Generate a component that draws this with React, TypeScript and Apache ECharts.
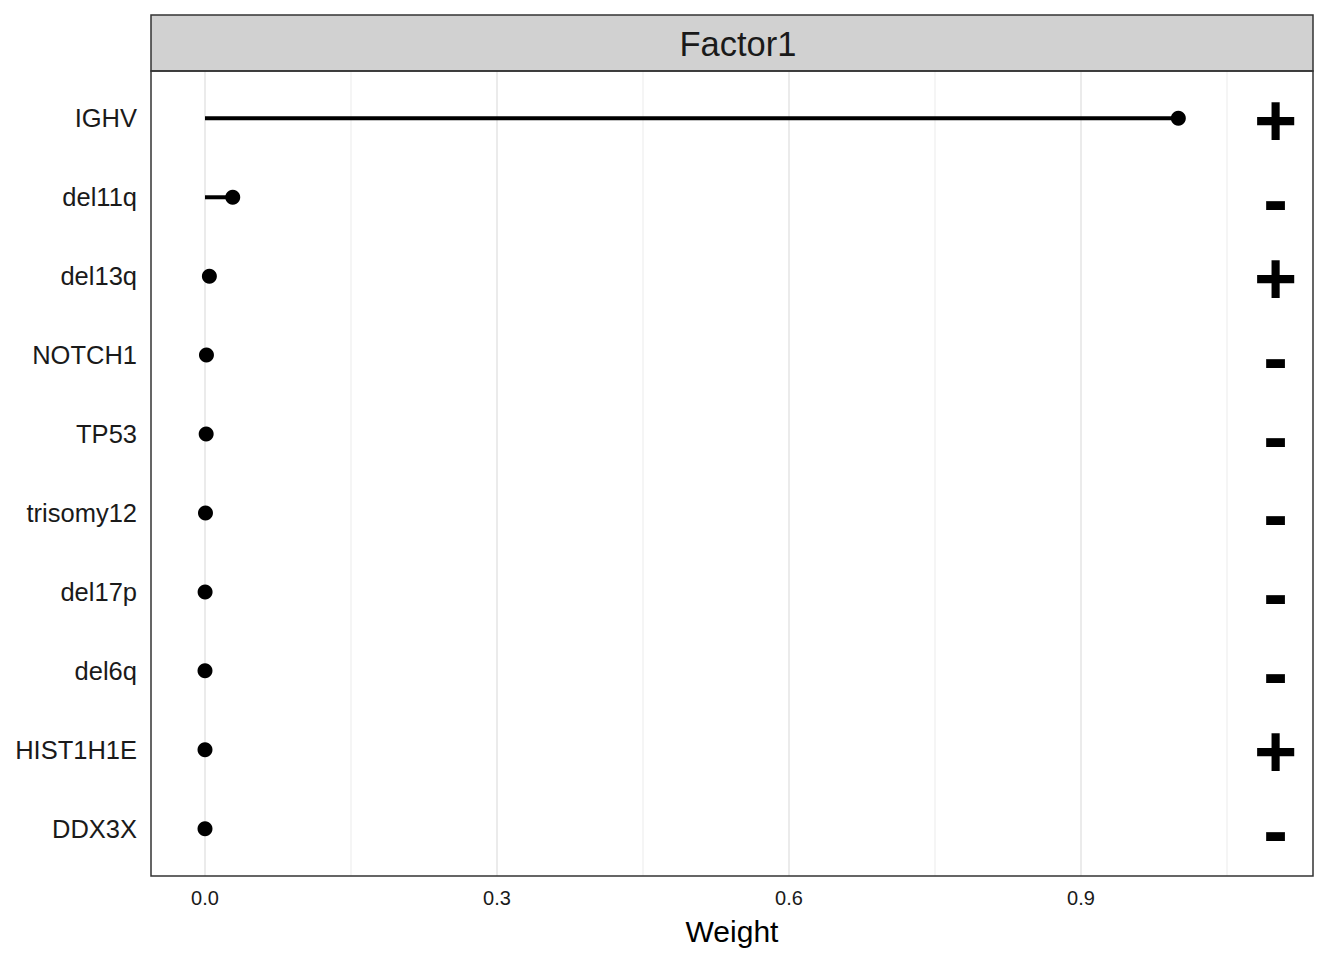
import React, { useEffect, useRef } from "react";
import * as echarts from "echarts";

const features = ["IGHV", "del11q", "del13q", "NOTCH1", "TP53", "trisomy12", "del17p", "del6q", "HIST1H1E", "DDX3X"];
const weights = [1.0, 0.0285, 0.0045, 0.0015, 0.0012, 0.0005, 0.0001, 0, 0, 0];
const signs = ["+", "-", "+", "-", "-", "-", "-", "-", "+", "-"];
const xTicks = [0, 0.3, 0.6, 0.9];
const xMinorGrid = [0.15, 0.45, 0.75, 1.05];
const signX = 1.1;
const factorName = "Factor1";
const xTitle = "Weight";

const FONT = "'Liberation Sans', Arial, Helvetica, sans-serif";

export default function App() {
  const ref = useRef<HTMLDivElement>(null);
  useEffect(() => {
    if (!ref.current) return;
    const chart = echarts.init(ref.current, null, { renderer: "svg" });
    const L = 151, R = 1313, T = 71, B = 876, stripTop = 15;
    const pxPerUnit = (1081 - 205) / 0.9;
    const xMin = (L - 205) / pxPerUnit;
    const xMax = (R - 205) / pxPerUnit;
    const unitY = (B - T) / 10.2;
    const catTop = T + 0.6 * unitY - unitY / 2;
    const catBottom = catTop + unitY * 10;

    const gridData = [
      ...xTicks.map((v) => [v, 2]),
      ...xMinorGrid.map((v) => [v, 1]),
    ];

    const option: any = {
      animation: false,
      backgroundColor: "#ffffff",
      textStyle: { fontFamily: FONT },
      grid: [
        { left: L, right: 1344 - R, top: T, bottom: 960 - B, containLabel: false },
        { left: L, right: 1344 - R, top: catTop, bottom: 960 - catBottom, containLabel: false },
      ],
      xAxis: [
        {
          type: "value",
          gridIndex: 0,
          min: xMin,
          max: xMax,
          axisLine: { show: false },
          splitLine: { show: false },
          axisTick: {
            show: true,
            customValues: xTicks,
            length: 6,
            lineStyle: { color: "#333333", width: 2 },
          },
          axisLabel: {
            show: true,
            customValues: xTicks,
            formatter: (v: number) => `{t|${v.toFixed(1)}}`,
            color: "#1a1a1a",
            fontSize: 20,
            fontFamily: FONT,
            margin: 11,
            rich: {
              t: { fontSize: 20, fontFamily: FONT, color: "#1a1a1a", lineHeight: 22 },
            },
          },
          name: xTitle,
          nameLocation: "middle",
          nameGap: 40,
          nameTextStyle: { fontSize: 30, color: "#000000", fontFamily: FONT },
        },
        {
          type: "value",
          gridIndex: 1,
          show: false,
        },
      ],
      yAxis: [
        {
          type: "value",
          gridIndex: 0,
          min: -0.6,
          max: 9.6,
          inverse: true,
          show: false,
        },
        {
          type: "category",
          gridIndex: 1,
          data: features,
          inverse: true,
          boundaryGap: true,
          axisLine: { show: false },
          axisTick: { show: false },
          splitLine: { show: false },
          axisLabel: { color: "#1a1a1a", fontSize: 25.5, fontFamily: FONT, margin: 14 },
        },
      ],
      graphic: [
        {
          type: "rect",
          shape: { x: L, y: stripTop, width: R - L, height: T - stripTop },
          style: { fill: "#d1d1d1", stroke: "#333333", lineWidth: 1.5 },
          z: 10,
        },
        {
          type: "text",
          x: (L + R) / 2 + 6,
          y: (stripTop + T) / 2 + 1,
          style: {
            text: factorName,
            fill: "#1a1a1a",
            font: `34.5px ${FONT}`,
            align: "center",
            verticalAlign: "middle",
          },
          z: 11,
        },
        {
          type: "rect",
          shape: { x: L, y: T, width: R - L, height: B - T },
          style: { fill: "none", stroke: "#333333", lineWidth: 1.5 },
          z: 10,
        },
      ],
      series: [
        {
          type: "custom",
          xAxisIndex: 0,
          yAxisIndex: 0,
          z: 1,
          silent: true,
          data: gridData,
          renderItem: (params: any, api: any) => {
            const v = api.value(0);
            const w = api.value(1);
            const p0 = api.coord([v, -0.6]);
            const p1 = api.coord([v, 9.6]);
            return {
              type: "line",
              shape: { x1: p0[0], y1: p0[1], x2: p1[0], y2: p1[1] },
              style: { stroke: "#ebebeb", lineWidth: w },
            };
          },
        },
        {
          type: "custom",
          xAxisIndex: 0,
          yAxisIndex: 0,
          z: 2,
          data: weights.map((w, i) => [w, i]),
          renderItem: (params: any, api: any) => {
            const v = api.value(0);
            const i = api.value(1);
            const p0 = api.coord([0, i]);
            const p1 = api.coord([v, i]);
            return {
              type: "line",
              shape: { x1: p0[0], y1: p0[1], x2: p1[0], y2: p1[1] },
              style: { stroke: "#000000", lineWidth: 4 },
            };
          },
        },
        {
          type: "scatter",
          xAxisIndex: 0,
          yAxisIndex: 0,
          z: 3,
          symbol: "circle",
          symbolSize: 15,
          itemStyle: { color: "#000000", opacity: 1 },
          data: weights.map((w, i) => [w, i]),
        },
        {
          type: "scatter",
          xAxisIndex: 0,
          yAxisIndex: 0,
          z: 3,
          symbolSize: 0,
          itemStyle: { color: "#000000", opacity: 1 },
          data: signs.map((s, i) => ({ value: [signX, i], sign: s })),
          label: {
            show: true,
            position: "inside",
            offset: [0, 2],
            formatter: (p: any) => p.data.sign,
            color: "#000000",
            opacity: 1,
            fontSize: 74,
            fontWeight: "bold",
            fontFamily: FONT,
          },
        },
      ],
    };
    chart.setOption(option);
    return () => chart.dispose();
  }, []);
  return <div ref={ref} style={{ width: 1344, height: 960, margin: -8 }} />;
}
